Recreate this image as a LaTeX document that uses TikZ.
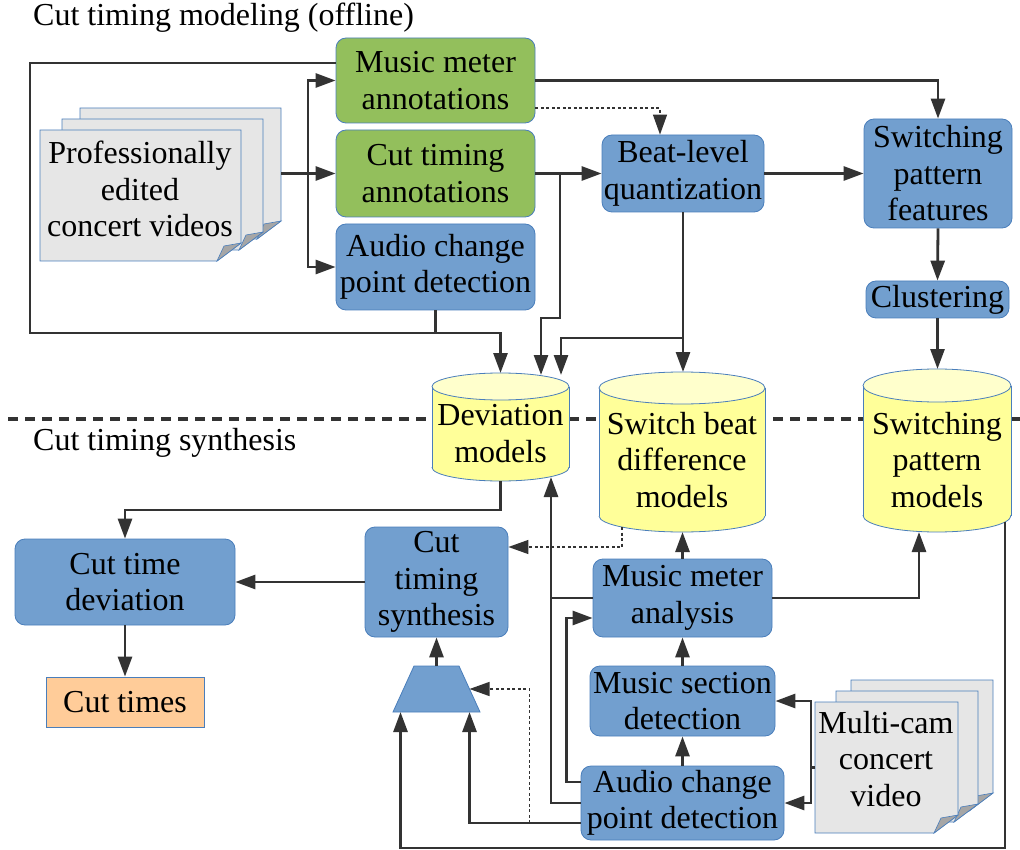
\documentclass[tikz,border=0pt]{standalone}
\usepackage{fontspec}
\setmainfont{LiberationSerif}[Extension=.ttf, UprightFont=*-Regular, BoldFont=*-Bold, ItalicFont=*-Italic]
\usetikzlibrary{arrows.meta,calc}

\definecolor{boxblue}{HTML}{729FCF}
\definecolor{boxgreen}{HTML}{93BF5C}
\definecolor{edge}{HTML}{4A7EBB}
\definecolor{ink}{HTML}{333333}
\definecolor{paper}{HTML}{E6E6E6}
\definecolor{foldgray}{HTML}{A6A6A6}
\definecolor{cylbody}{HTML}{FFFF99}
\definecolor{cyltop}{HTML}{FFFFCC}
\definecolor{outorange}{HTML}{FFCC99}

\tikzset{
  lbl/.style={font=\fontsize{32}{36.5}\selectfont, align=center, inner sep=0pt},
  box/.style={lbl, draw=edge, line width=0.8pt, rounded corners=10pt},
  bluebox/.style={box, fill=boxblue},
  greenbox/.style={box, fill=boxgreen},
  cylline/.style={draw=edge, line width=0.8pt},
  wire/.style={draw=ink, line width=2.8pt},
  conn/.style={wire, -{Triangle[length=20pt,width=14pt]}},
  dotconn/.style={draw=ink, line width=1.3pt, dash pattern=on 3pt off 2.5pt,
                  -{Triangle[length=20pt,width=14pt]}},
  sep/.style={draw=ink, line width=4pt, dash pattern=on 10pt off 7pt},
  frame/.style={inner sep=0pt, outer sep=0pt},
}

% database cylinder: name, x0, y0, x1, y1, ellipse y radius
\newcommand{\drawcyl}[6]{%
  \fill[cylbody] (#2,{#3+#6}) rectangle (#4,{#5-#6});
  \fill[cylbody] ({(#2+#4)/2},{#5-#6}) ellipse [x radius={(#4-#2)/2}, y radius=#6];
  \begin{scope}
    \clip ({#2-2},{#5-#6}) rectangle ({#4+2},{#5+2});
    \draw[cylline] ({(#2+#4)/2},{#5-#6}) ellipse [x radius={(#4-#2)/2}, y radius=#6];
  \end{scope}
  \draw[cylline] (#2,{#3+#6}) -- (#2,{#5-#6}) (#4,{#3+#6}) -- (#4,{#5-#6});
  \filldraw[fill=cyltop, cylline] ({(#2+#4)/2},{#3+#6}) ellipse [x radius={(#4-#2)/2}, y radius=#6];
  \node[frame, minimum width={#4-#2}, minimum height={#5-#3}]
    (#1) at ({(#2+#4)/2},{(#3+#5)/2}) {};
}

% one page of a document stack with a curled corner: x0, y0, x1, y1
\newcommand{\papersheet}[4]{%
  \filldraw[fill=paper, draw=edge, line width=0.8pt]
    (#1,#2) -- (#3,#2) -- (#3,{#4-18}) -- ({#3-24},#4) -- (#1,#4) -- cycle;
  \filldraw[fill=foldgray, draw=edge, line width=0.6pt]
    ({#3-24},#4) .. controls ({#3-21},{#4-8}) .. ({#3-17},{#4-15}) -- (#3,{#4-18}) -- cycle;
}

\begin{document}
\begin{tikzpicture}[x=1pt, y=-1pt]
\useasboundingbox (0,0) rectangle (1020,850);

% section titles and divider
\node[lbl, anchor=base west] (titleA) at (33,26) {Cut timing modeling (offline)};
\node[lbl, anchor=base west] (titleB) at (33,450) {Cut timing synthesis};
\draw[sep] (8,419) -- (1020,419);

% model stores
\drawcyl{dev}{432}{373}{569}{481}{13.5}
\drawcyl{sbd}{599}{372}{765}{532}{16}
\drawcyl{spm}{863}{369}{1011}{532}{16.5}
\node[lbl] (devtext) at (500.5,433.5) {Deviation\\models};
\node[lbl] (sbdtext) at (682,460) {Switch beat\\difference\\models};
\node[lbl] (spmtext) at (937,460) {Switching\\pattern\\models};

% input video stacks
\papersheet{80}{108}{281}{239}
\papersheet{62}{119}{263}{250}
\papersheet{40}{130}{241}{261}
\node[frame, minimum width=201, minimum height=131] (pev) at (180.5,173.5) {};
\node[lbl] (pevtext) at (140,189) {Professionally\\edited\\concert videos};

\papersheet{851}{680}{993}{811}
\papersheet{836}{691}{978}{822}
\papersheet{815}{702}{958}{833}
\node[frame, minimum width=143, minimum height=131] (mcv) at (886.5,767.5) {};
\node[lbl] (mcvtext) at (886,759) {Multi-cam\\concert\\video};

% modeling blocks
\node[greenbox, minimum width=199, minimum height=85] (mma) at (435.5,80.5) {Music meter\\annotations};
\node[greenbox, minimum width=199, minimum height=87] (cta) at (435.5,173.5) {Cut timing\\annotations};
\node[bluebox, minimum width=199, minimum height=86] (acp) at (435.5,267) {Audio change\\point detection};
\node[bluebox, minimum width=162, minimum height=77] (bq) at (683,173.5) {Beat-level\\quantization};
\node[bluebox, minimum width=148, minimum height=109] (spf) at (938,173.5) {Switching\\pattern\\features};
\node[bluebox, minimum width=143, minimum height=37] (clu) at (937.5,299.5) {Clustering};

% synthesis blocks
\node[bluebox, minimum width=220, minimum height=86] (ctd) at (125,582) {Cut time\\deviation};
\node[lbl, draw=edge, line width=0.8pt, fill=outorange, minimum width=158, minimum height=50] (cto) at (125,702) {Cut times};
\node[bluebox, minimum width=143, minimum height=110] (cts) at (436.5,582) {Cut\\timing\\synthesis};
\node[bluebox, minimum width=179, minimum height=78] (mmaB) at (682.5,598) {Music meter\\analysis};
\node[bluebox, minimum width=185, minimum height=70] (msd) at (682.5,701) {Music section\\detection};
\node[bluebox, minimum width=203, minimum height=74] (acpB) at (682.5,803) {Audio change\\point detection};

% selector block (trapezoid)
\filldraw[fill=boxblue, draw=edge, line width=0.8pt]
  (414,666) -- (459,666) -- (480,712) -- (393,712) -- cycle;
\node[frame, minimum width=87, minimum height=46] (trap) at (436.5,689) {};
\coordinate (trapR) at (469.5,689);

% modeling connectors
\coordinate (fork) at (308,173.5);
\coordinate (loop) at (30,333);
\coordinate (ctab) at (560,173.5);
\coordinate (ctadown) at (560,318);
\coordinate (bqb) at (683,338);
\draw[conn] (pev.east) -- (cta.west);
\draw[conn] (fork) |- (mma.west);
\draw[conn] (fork) |- (acp.west);
\draw[conn] (mma.east) -| (spf.north);
\draw[dotconn] ([yshift=-27.5pt]mma.east) -| ([xshift=-23pt]bq.north);
\draw[conn] (cta.east) -- (bq.west);
\draw[conn] (bq.east) -- (spf.west);
\draw[conn] (spf.south) -- (clu.north);
\draw[conn] (clu.south) -- (clu.south |- spm.north);
\draw[conn] ([yshift=17.5pt]mma.west) -| (loop) -| (dev.north);
\draw[wire] (acp.south) -- (acp.south |- loop);
\draw[conn] (ctab) -- (ctadown) -| ([xshift=40.5pt,yshift=-2pt]dev.north);
\draw[conn] (bq.south) -- (bq.south |- sbd.north);
\draw[conn] (bqb) -| ([xshift=60.5pt,yshift=-2pt]dev.north);

% synthesis connectors
\coordinate (devjoin) at (125,510);
\coordinate (rb) at (1005,848);
\draw[conn] (dev.south) |- (devjoin) -- (ctd.north);
\draw[conn] (cts.west) -- (ctd.east);
\draw[conn] (ctd.south) -- (cto.north);
\draw[dotconn] ([xshift=-60pt,yshift=5pt]sbd.south) |- ([yshift=35pt]cts.east);
\draw[conn] (trap.north) -- (cts.south);
\draw[conn] (mmaB.north) -- (mmaB.north |- sbd.south);
\draw[conn] (msd.north) -- (mmaB.south);
\draw[conn] (acpB.north) -- (msd.south);
\draw[conn] (mmaB.east) -| ([xshift=-18pt]spm.south);
\draw[conn] (mcv.west) -- ++(-4pt,0) |- (msd.east);
\draw[conn] (mcv.west) -- ++(-4pt,0) |- (acpB.east);
\draw[conn] (acpB.west) -| ([xshift=50.5pt,yshift=4pt]dev.south);
\draw[wire] (mmaB.west) -- ++(-42pt,0);
\draw[conn] ([yshift=21pt]acpB.west) -- ++(-14pt,0) |- ([yshift=-20pt]mmaB.west);
\draw[conn] ([yshift=-20pt]acpB.west) -| ([xshift=33pt]trap.south);
\draw[dotconn] ([xshift=-51pt,yshift=-20pt]acpB.west) |- (trapR);
\draw[conn] ([xshift=-6pt,yshift=10pt]spm.south east) -- (rb) -| ([xshift=-36pt]trap.south);
\end{tikzpicture}
\end{document}
